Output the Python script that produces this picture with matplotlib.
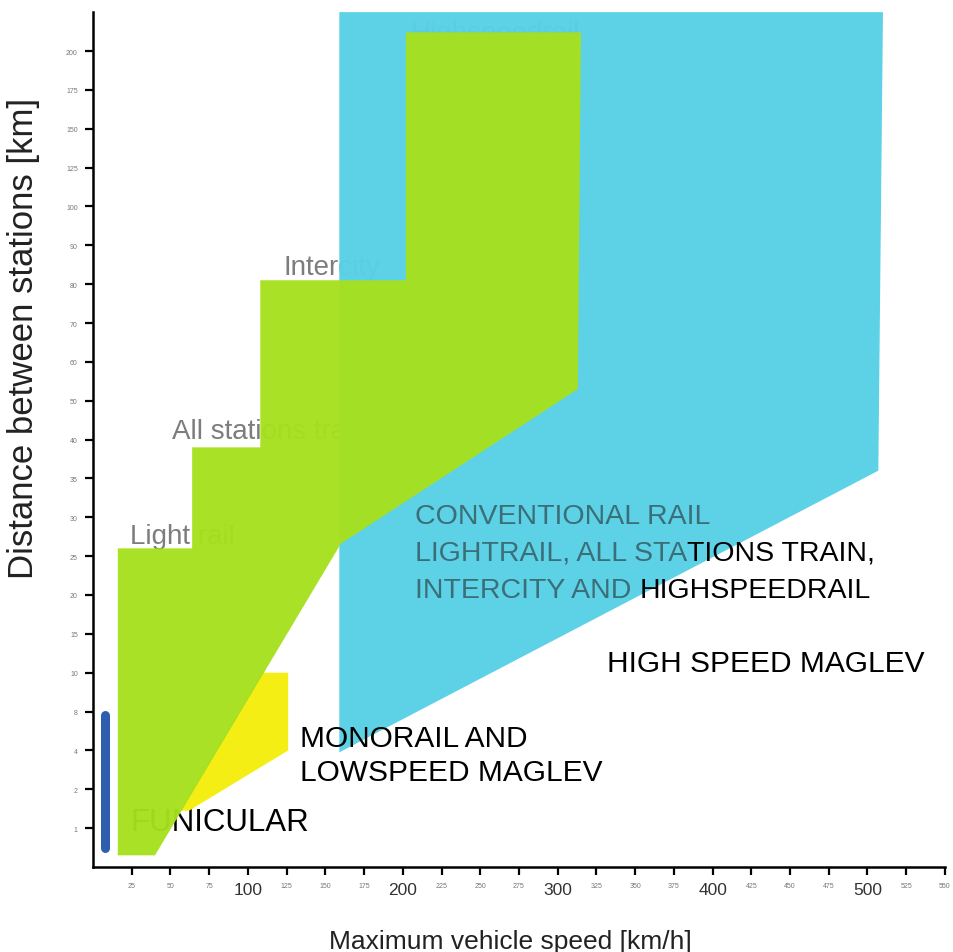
import numpy as np
import matplotlib.pyplot as plt

plt.rcParams['font.family'] = ['Liberation Sans', 'DejaVu Sans']

# =============================
#  Axis values
# =============================
# distance ticks are equally spaced on the chart (uneven scale)
dist_ticks = [1, 2, 4, 8, 10, 15, 20, 25, 30, 35, 40, 50, 60, 70, 80, 90, 100, 125, 150, 175, 200]
speed_ticks = list(range(25, 551, 25))

# =============================
#  Region outlines (speed km/h, distance km)
# =============================
conv_speed = [16, 16, 64, 64, 108, 108, 202, 202, 315, 313, 160, 40]
conv_dist = [0.3, 26, 26, 39, 39, 81, 81, 212, 212, 53, 26.6, 0.3]

maglev_speed = [159, 510, 507, 159]
maglev_dist = [225, 225, 36, 3.9]

mono_speed = [56, 109, 126, 126, 62]
mono_dist = [1.45, 10, 10, 4, 1.45]

funi_speed = [7.8, 7.8]
funi_dist = [0.5, 7.6]

# =============================
#  Colours
# =============================
cyan = "#58d0e6"
green = "#a6e01e"
yellow = "#f4ee14"
blue = "#2d5fae"
grey_txt = "#7d7d7d"
teal_txt = "#3a6f78"

# piecewise-linear scale: every tick one step apart
knots_v = np.array([0] + dist_ticks + [225], dtype=float)
knots_i = np.arange(-1, len(dist_ticks) + 1, dtype=float)


def fwd(v):
    return np.interp(v, knots_v, knots_i)


def inv(i):
    return np.interp(i, knots_i, knots_v)


fig = plt.figure(figsize=(9.54, 9.53), dpi=100)
ax = fig.add_axes([0.0975, 0.0892, 0.893, 0.897])
ax.set_yscale('function', functions=(fwd, inv))
ax.set_xlim(0, 550)
ax.set_ylim(0, 225)

# =============================
#  Regions
# =============================
ax.fill(maglev_speed, maglev_dist, color=cyan, lw=0, alpha=0.97, zorder=2)
ax.fill(mono_speed, mono_dist, color=yellow, lw=0, zorder=2.5)
ax.fill(conv_speed, conv_dist, color=green, lw=0, alpha=0.965, zorder=3)
ax.plot(funi_speed, funi_dist, color=blue, lw=6.5, solid_capstyle='round', zorder=4)

# =============================
#  Labels inside the plot
# =============================
ax.text(23.9, 26.7, "Light rail", fontsize=20, color=grey_txt, zorder=1)
ax.text(51.1, 40.3, "All stations train", fontsize=20, color=grey_txt, zorder=1)
ax.text(122.8, 82.7, "Intercity", fontsize=20, color=grey_txt, zorder=1)
ax.text(205, 207, "Highspeedrail", fontsize=20, color=grey_txt, zorder=1)

ax.text(23.9, 0.95, "FUNICULAR", fontsize=22.5, color="black", zorder=1)
ax.text(133.8, 4.5, "MONORAIL AND", fontsize=21.5, color="black", zorder=5)
ax.text(133.8, 2.46, "LOWSPEED MAGLEV", fontsize=21.5, color="black", zorder=5)
ax.text(332, 10.2, "HIGH SPEED MAGLEV", fontsize=21.5, color="black", zorder=5)

fs = 20.5
ax.text(208, 29.3, "CONVENTIONAL RAIL", fontsize=fs, color=teal_txt, zorder=5)
t2 = ax.text(208, 24.6, "LIGHTRAIL, ALL STA", fontsize=fs, color=teal_txt, zorder=5)
ax.annotate("TIONS TRAIN,", xy=(1, 0), xycoords=t2, va='bottom',
            fontsize=fs, color="black", zorder=5)
t3 = ax.text(208, 19.8, "INTERCITY AND", fontsize=fs, color=teal_txt, zorder=5)
ax.annotate("HIGHSPEEDRAIL", xy=(1, 0), xycoords=t3, xytext=(5.5, 0),
            textcoords='offset points', va='bottom',
            fontsize=fs, color="black", zorder=5)

# =============================
#  Axes
# =============================
ax.set_yticks(dist_ticks)
ax.set_yticklabels([str(v) for v in dist_ticks])
ax.set_xticks(speed_ticks)
ax.set_xticklabels([str(v) for v in speed_ticks])
ax.minorticks_off()

for lab, v in zip(ax.get_xticklabels(), speed_ticks):
    if v % 100 == 0:
        lab.set_fontsize(12.5)
        lab.set_color("#333333")
    else:
        lab.set_fontsize(5)
        lab.set_color("#777777")

ax.tick_params(axis='y', length=6, width=1.6, labelsize=5, labelcolor="#777777", pad=5)
ax.tick_params(axis='x', length=6, width=1.6, pad=5)

ax.set_xlabel("Maximum vehicle speed [km/h]", fontsize=19, color="#222222")
ax.xaxis.set_label_coords(0.49, -0.072)
ax.set_ylabel("Distance between stations [km]", fontsize=25, color="#222222")
ax.yaxis.set_label_coords(-0.062, 0.62)

for side in ("top", "right"):
    ax.spines[side].set_visible(False)
for side in ("left", "bottom"):
    ax.spines[side].set_linewidth(1.8)

fig.savefig("out.png", dpi=100)
